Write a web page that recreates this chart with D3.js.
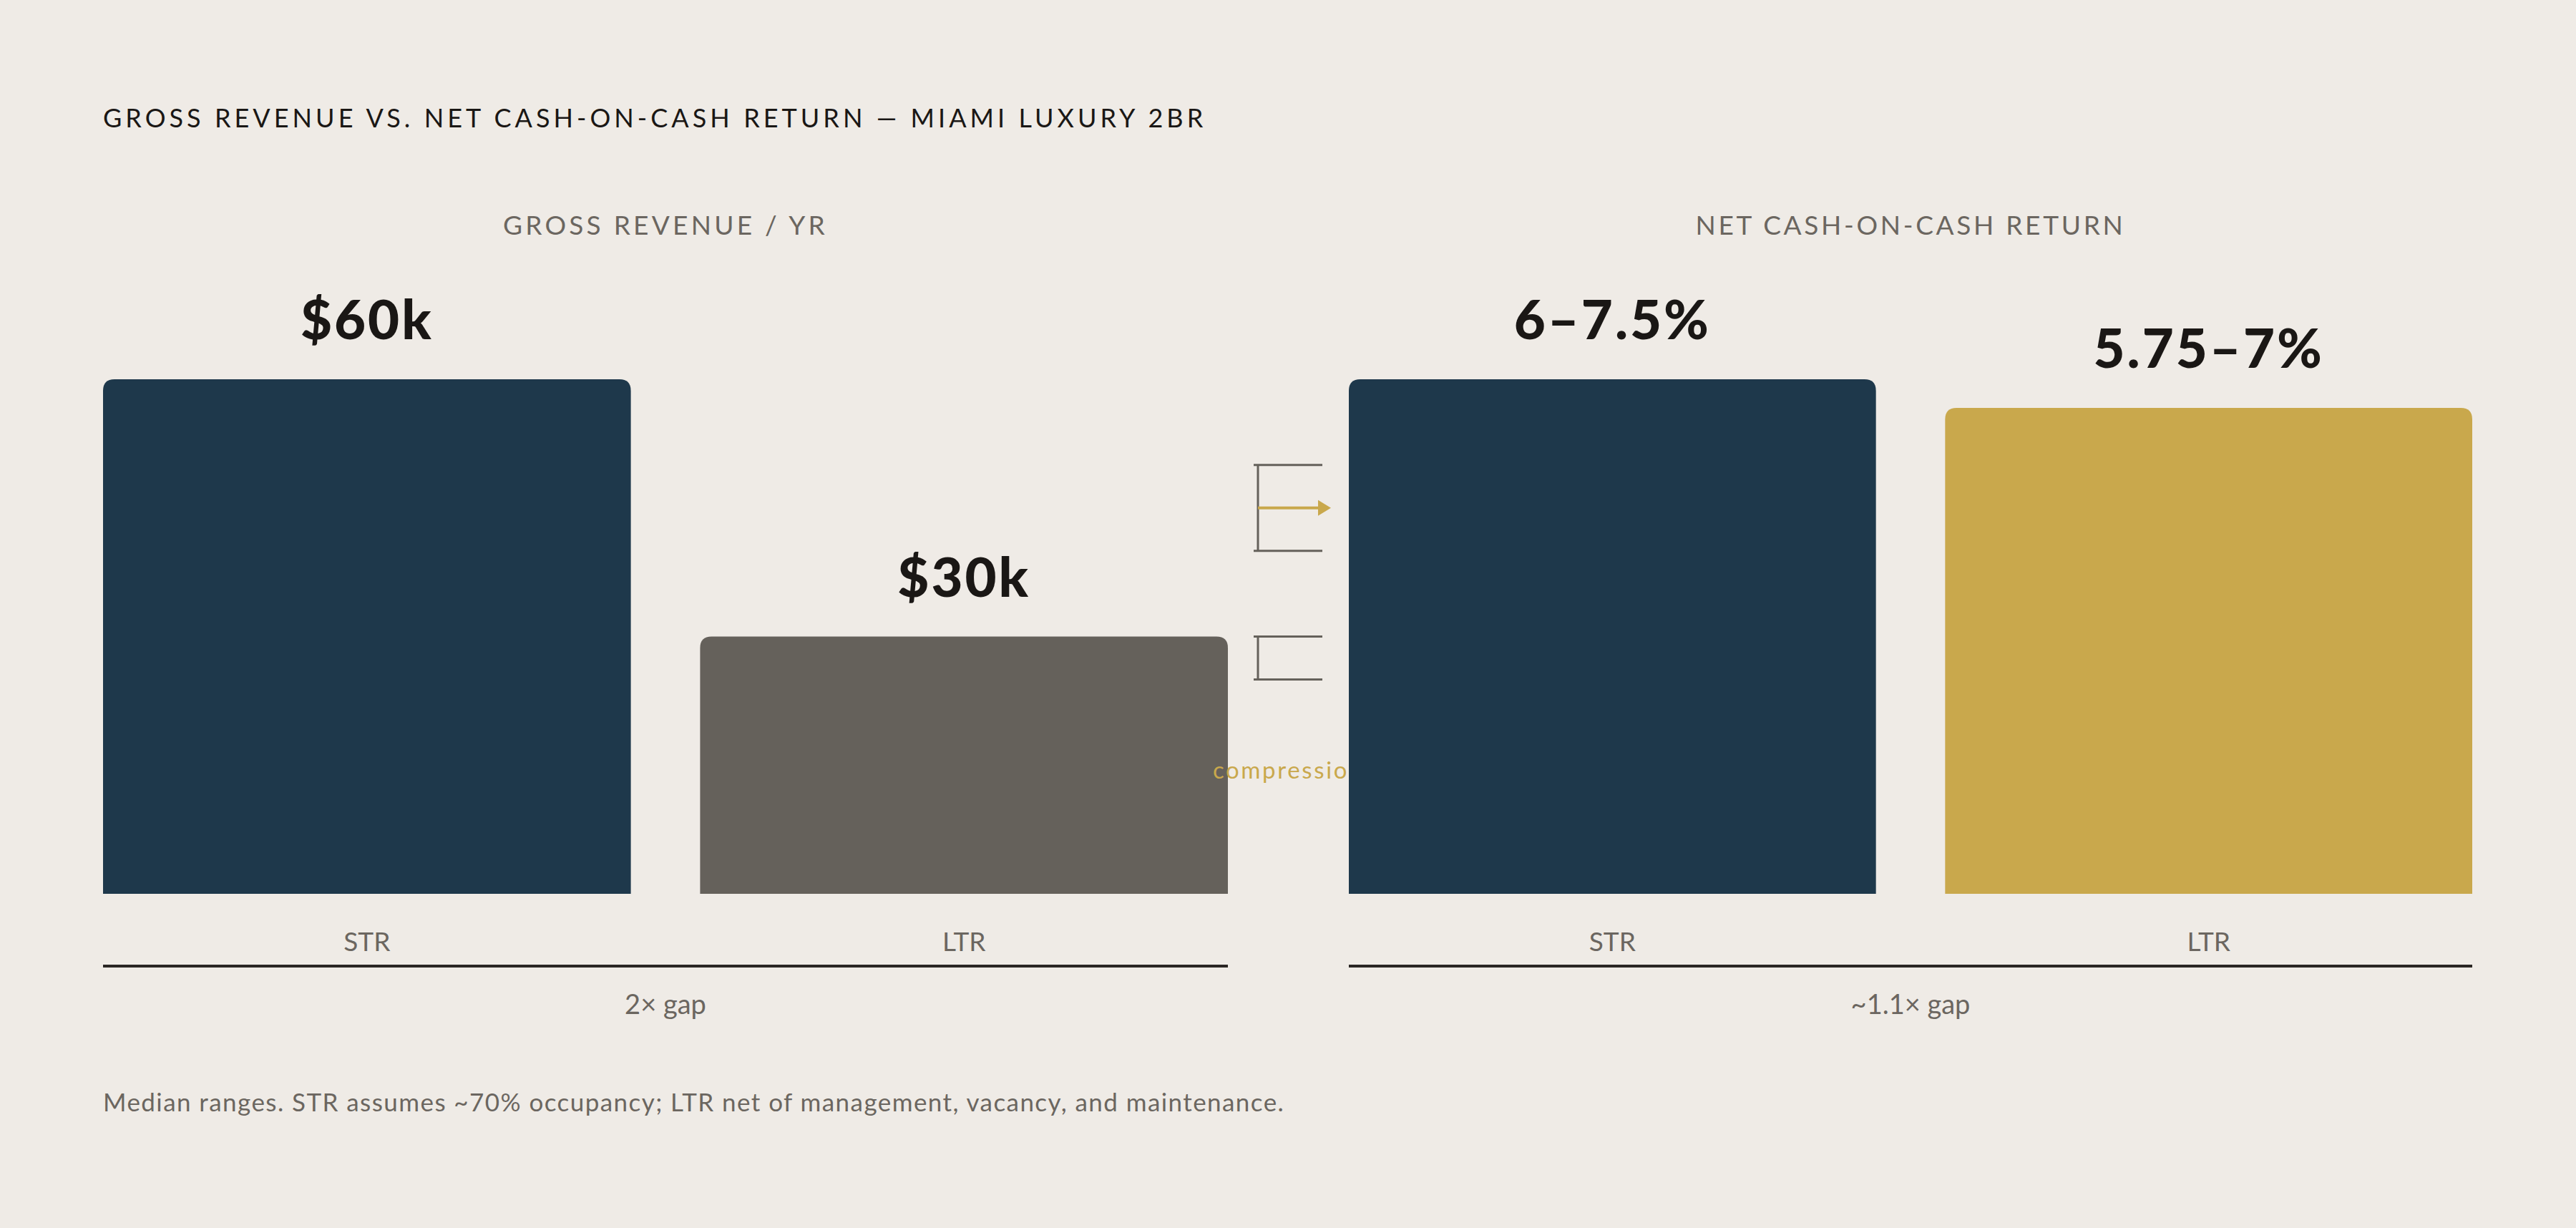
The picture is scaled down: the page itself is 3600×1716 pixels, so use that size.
<!DOCTYPE html>
<html>
<head>
<meta charset="utf-8">
<script src="https://cdn.jsdelivr.net/npm/d3@7"></script>
<style>
  html, body { margin: 0; padding: 0; background: #efebe6; }
  svg { display: block; }
</style>
</head>
<body>
<script>
// chart data
var categories = ['STR', 'LTR'];
var grossValues = [60, 30];              // $k per year
var grossLabels = ['$60k', '$30k'];
var cocRanges = [[6, 7.5], [5.75, 7]];   // net cash-on-cash, %
var cocLabels = ['6–7.5%', '5.75–7%'];
var gapLabels = ['2× gap', '~1.1× gap'];
var panelTitles = ['GROSS REVENUE / YR', 'NET CASH-ON-CASH RETURN'];
var compressionBrackets = [[40, 50], [25, 30]];   // on gross scale, $k

window.onload = function(){

    var W = 3600, H = 1716;
    var base = {left: 144, bottom: 1249, top: 530, axisY: 1350};
    var colors = {
        bg: '#efebe6', navy: '#1e384b', grey: '#65615b', gold: '#c9a84c',
        ink: '#1a1715', muted: '#6b6660', rule: '#2a2623'
    };
    var font = 'Lato, "Noto Sans", sans-serif';

    var svg = d3.select(document.body).append('svg')
        .attr('width', W).attr('height', H);

    svg.append('rect').attr('width', W).attr('height', H).attr('fill', colors.bg);

    // title
    svg.append('text')
        .attr('x', base.left).attr('y', 178)
        .attr('font-family', font).attr('font-size', 36)
        .attr('letter-spacing', '0.14em')
        .attr('fill', colors.ink)
        .text('GROSS REVENUE VS. NET CASH-ON-CASH RETURN — MIAMI LUXURY 2BR');

    // scales
    var xGross = d3.scaleBand().domain(categories).range([144, 1716]).paddingInner(0.116);
    var xCoc = d3.scaleBand().domain(categories).range([1885, 3455]).paddingInner(0.116);
    var yGross = d3.scaleLinear().domain([0, 60]).range([base.bottom, base.top]);
    var yCoc = d3.scaleLinear().domain([0, 6.75]).range([base.bottom, base.top]);

    function topRounded(x, y, w, h, r){
        return 'M' + x + ',' + (y + h) +
            'V' + (y + r) +
            'Q' + x + ',' + y + ' ' + (x + r) + ',' + y +
            'H' + (x + w - r) +
            'Q' + (x + w) + ',' + y + ' ' + (x + w) + ',' + (y + r) +
            'V' + (y + h) + 'Z';
    }

    var mid = function(r){ return (r[0] + r[1]) / 2; };

    var panels = [
        {x: xGross, y: yGross, vals: grossValues, labels: grossLabels, fills: [colors.navy, colors.grey]},
        {x: xCoc, y: yCoc, vals: cocRanges.map(mid), labels: cocLabels, fills: [colors.navy, colors.gold]}
    ];

    // compression brackets between the panels
    var gapMid = (xGross.range()[1] + xCoc.range()[0]) / 2;
    var ann = svg.append('g');
    var bx = 1758, bx2 = 1848;
    compressionBrackets.forEach(function(b, i){
        var y0 = yGross(b[1]), y1 = yGross(b[0]);
        ann.append('path')
            .attr('d', 'M' + bx2 + ',' + y0 + 'H' + (bx - 6) + 'M' + bx + ',' + y0 + 'V' + y1 +
                'M' + (bx - 6) + ',' + y1 + 'H' + bx2)
            .attr('fill', 'none').attr('stroke', colors.grey).attr('stroke-width', 3);
        if(i === 0){
            var ya = yGross(mid(b));
            ann.append('line')
                .attr('x1', bx).attr('x2', 1844).attr('y1', ya).attr('y2', ya)
                .attr('stroke', colors.gold).attr('stroke-width', 4);
            ann.append('path')
                .attr('d', 'M1842,' + (ya - 11) + 'L1860,' + ya + 'L1842,' + (ya + 11) + 'Z')
                .attr('fill', colors.gold);
        }
    });

    panels.forEach(function(p, pi){
        var r0 = p.x.range();
        var cx = (r0[0] + r0[1]) / 2;

        // label drawn over the left bars but under the right ones
        if(pi === 1){
            svg.append('text')
                .attr('x', gapMid).attr('y', yGross(13.4))
                .attr('text-anchor', 'middle')
                .attr('font-family', font).attr('font-size', 33)
                .attr('letter-spacing', '0.08em')
                .attr('fill', colors.gold)
                .text('compression');
        }

        svg.append('text')
            .attr('x', cx).attr('y', 328)
            .attr('text-anchor', 'middle')
            .attr('font-family', font).attr('font-size', 37)
            .attr('letter-spacing', pi === 0 ? '0.115em' : '0.1em')
            .attr('fill', colors.muted)
            .text(panelTitles[pi]);

        var g = svg.append('g');
        g.selectAll('path.bar').data(categories).enter().append('path')
            .attr('class', 'bar')
            .attr('d', function(c, i){
                var yv = p.y(p.vals[i]);
                return topRounded(p.x(c), yv, p.x.bandwidth(), base.bottom - yv, 16);
            })
            .attr('fill', function(c, i){ return p.fills[i]; });

        g.selectAll('text.val').data(categories).enter().append('text')
            .attr('class', 'val')
            .attr('x', function(c){ return p.x(c) + p.x.bandwidth() / 2; })
            .attr('y', function(c, i){ return p.y(p.vals[i]) - 56; })
            .attr('text-anchor', 'middle')
            .attr('font-family', font).attr('font-weight', 900).attr('font-size', 76)
            .attr('letter-spacing', '3px')
            .attr('fill', colors.ink)
            .text(function(c, i){ return p.labels[i]; });

        g.selectAll('text.cat').data(categories).enter().append('text')
            .attr('class', 'cat')
            .attr('x', function(c){ return p.x(c) + p.x.bandwidth() / 2; })
            .attr('y', 1329)
            .attr('text-anchor', 'middle')
            .attr('font-family', font).attr('font-size', 37)
            .attr('fill', colors.muted)
            .text(function(c){ return c; });

        g.append('line')
            .attr('x1', r0[0]).attr('x2', r0[1])
            .attr('y1', base.axisY).attr('y2', base.axisY)
            .attr('stroke', colors.rule).attr('stroke-width', 4);

        g.append('text')
            .attr('x', cx).attr('y', 1417)
            .attr('text-anchor', 'middle')
            .attr('font-family', font).attr('font-size', 38)
            .attr('fill', colors.muted)
            .text(gapLabels[pi]);
    });

    // footnote
    svg.append('text')
        .attr('x', base.left).attr('y', 1553)
        .attr('font-family', font).attr('font-size', 35)
        .attr('letter-spacing', '0.041em')
        .attr('fill', colors.muted)
        .text('Median ranges. STR assumes ~70% occupancy; LTR net of management, vacancy, and maintenance.');
};
</script>
</body>
</html>
